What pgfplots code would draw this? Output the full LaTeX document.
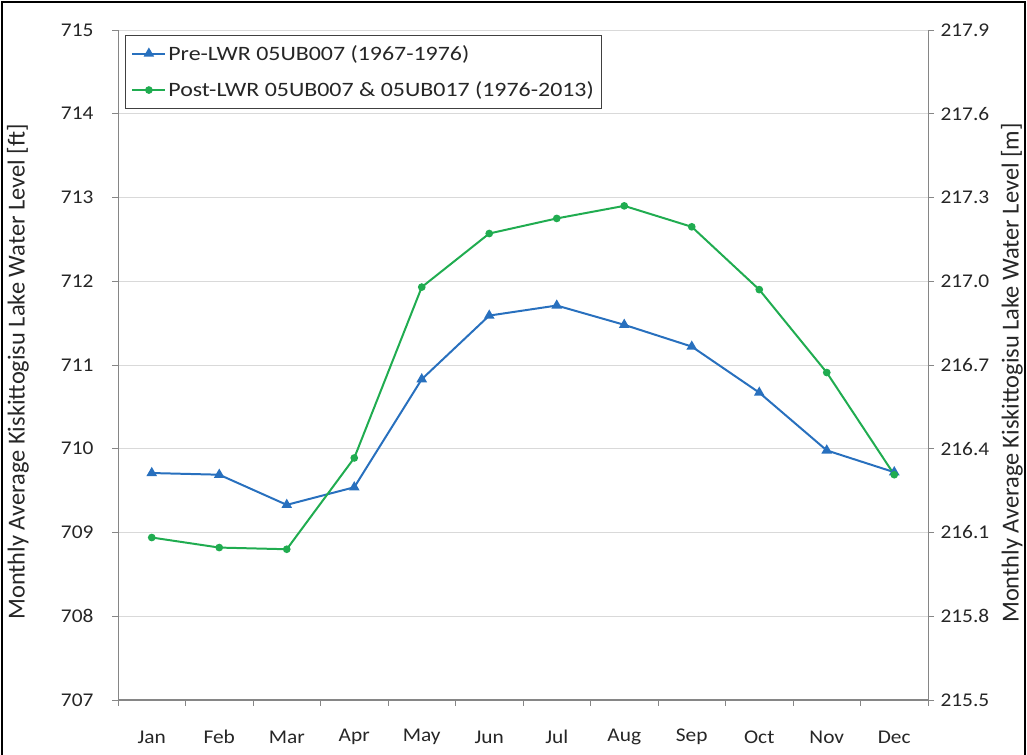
\documentclass[border=0pt]{standalone}
\usepackage{fontspec}
\setmainfont{Carlito}
\usepackage{pgfplots}
\pgfplotsset{compat=1.18}
\usetikzlibrary{calc}
\definecolor{serblue}{RGB}{40,112,190}
\definecolor{sergreen}{RGB}{32,172,80}
\definecolor{axgray}{RGB}{134,134,134}
\definecolor{gridgray}{RGB}{217,217,217}
\newcommand{\sx}[1]{\scalebox{1.17}[1]{#1}}
\newcommand{\tx}[1]{\scalebox{1.1}[1]{#1}}
\begin{document}
\begin{tikzpicture}[x=1bp,y=1bp]
\pgfplotsset{
  common/.style={
    scale only axis, width=810bp, height=670bp,
    xmin=-0.5, xmax=11.5,
    /pgf/number format/assume math mode=true,
    tick label style={font=\fontsize{19.5}{23}\selectfont, text=black!85},
    label style={font=\fontsize{24.5}{26}\selectfont, text=black!85},
    axis line style={axgray, line width=1pt},
    tick style={axgray, line width=0.8pt},
    major tick length=6bp,
    tick align=outside,
  }
}
\begin{axis}[common, name=main,
  axis y line*=left, axis x line*=bottom,
  ymin=707, ymax=715, ytick={707,708,...,715},
  yticklabel={\tx{\pgfmathprintnumber[fixed,precision=0]{\tick}}},
  yticklabel style={anchor=east, xshift=-15bp},
  ymajorgrids, grid style={gridgray, line width=0.8pt},
  xtick={0,...,11},
  xticklabels={\tx{Jan},\tx{Feb},\tx{Mar},\tx{Apr},\tx{May},\tx{Jun},\tx{Jul},\tx{Aug},\tx{Sep},\tx{Oct},\tx{Nov},\tx{Dec}},
  major x tick style={draw=none},
  minor xtick={-0.5,0.5,...,11.5},
  minor tick length=6bp,
  minor x tick style={axgray, line width=0.8pt},
  xticklabel style={anchor=center, yshift=-31bp},
  ylabel={Monthly Average Kiskittogisu Lake Water Level [ft]},
  ylabel style={at={(axis description cs:0,0.5)}, anchor=center, yshift=100bp, xshift=-7bp},
  x axis line style={line width=2.2pt, axgray},
  legend style={at={(axis description cs:0.00863,0.9925)}, anchor=north west,
    draw=black!75, line width=0.8pt, font=\fontsize{20.5}{24}\selectfont,
    text=black!85,
    row sep=16bp, inner xsep=6bp, inner ysep=8bp,
    nodes={inner xsep=2bp}},
  legend cell align=left,
  legend image code/.code={\draw[mark repeat=2,mark phase=2] plot coordinates {(0bp,0bp) (16.5bp,0bp) (33bp,0bp)};},
]
\addplot[serblue, line width=2pt, mark=triangle*, mark size=4.2pt, mark options={solid}]
  coordinates {(0,709.71) (1,709.69) (2,709.33) (3,709.54) (4,710.83) (5,711.59) (6,711.71) (7,711.48) (8,711.22) (9,710.67) (10,709.98) (11,709.72)};
\addlegendentry{\sx{Pre-LWR 05UB007 (1967-1976)}}
\addplot[sergreen, line width=2pt, mark=*, mark size=2.8pt]
  coordinates {(0,708.94) (1,708.82) (2,708.80) (3,709.89) (4,711.93) (5,712.57) (6,712.75) (7,712.90) (8,712.65) (9,711.90) (10,710.91) (11,709.69)};
\addlegendentry{\sx{Post-LWR 05UB007 \& 05UB017 (1976-2013)}}
\end{axis}
\begin{axis}[common,
  axis y line*=right, axis x line=none,
  ymin=215.5, ymax=217.9, ytick={215.5,215.8,...,217.9},
  yticklabel={\tx{\pgfmathprintnumber[fixed,fixed zerofill,precision=1]{\tick}}},
  yticklabel style={anchor=west, xshift=3bp},
  ylabel={Monthly Average Kiskittogisu Lake Water Level [m]},
  ylabel style={at={(axis description cs:1,0.5)}, anchor=center, yshift=-84bp, xshift=-8bp},
]
\addplot[draw=none] coordinates {(0,216)};
\end{axis}
\path[use as bounding box] ($(main.south west)+(-118bp,-55bp)$) rectangle ($(main.north east)+(99bp,30bp)$);
\draw[black, line width=2pt] ($(main.south west)+(-116bp,-58bp)$) -- ($(main.north west)+(-116bp,28bp)$) -- ($(main.north east)+(97bp,28bp)$) -- ($(main.south east)+(97bp,-58bp)$);
\end{tikzpicture}
\end{document}
